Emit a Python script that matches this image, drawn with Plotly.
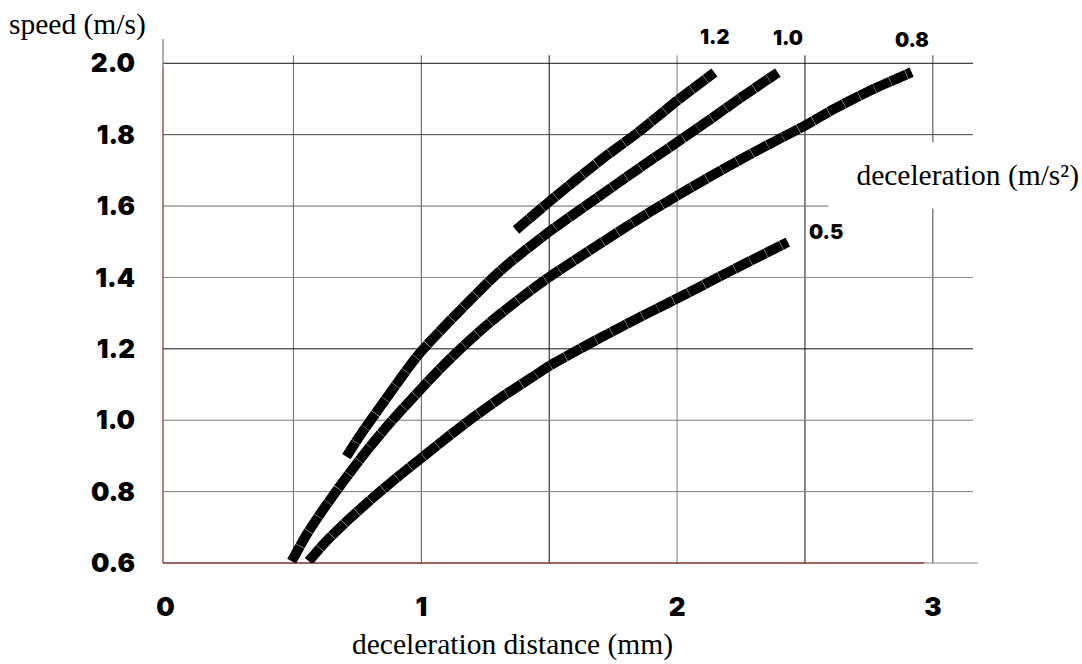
import plotly.graph_objects as go

# ---- data ----
curve_names = ["1.2", "1.0", "0.8", "0.5"]

x_12 = [1.37, 1.50, 1.70, 1.85, 2.00, 2.146]
y_12 = [1.533, 1.612, 1.728, 1.808, 1.895, 1.974]

x_10 = [0.707, 0.765, 0.835, 0.94, 0.996, 1.141, 1.305, 1.485, 1.687, 1.85, 1.984, 2.118, 2.248, 2.394]
y_10 = [0.898, 0.962, 1.033, 1.138, 1.19, 1.300, 1.416, 1.520, 1.623, 1.705, 1.771, 1.837, 1.903, 1.974]

x_08 = [0.493, 0.552, 0.604, 0.664, 0.728, 0.802, 0.877, 0.963, 1.065, 1.153, 1.267, 1.397, 1.5,
        1.687, 1.85, 1.984, 2.118, 2.276, 2.378, 2.496, 2.614, 2.76, 2.917]
y_08 = [0.605, 0.68, 0.737, 0.798, 0.86, 0.928, 0.992, 1.06, 1.138, 1.2, 1.273, 1.347, 1.401,
        1.489, 1.564, 1.622, 1.678, 1.741, 1.780, 1.824, 1.872, 1.925, 1.975]

x_05 = [0.56, 0.627, 0.716, 0.813, 0.914, 1.0, 1.112, 1.2, 1.321, 1.447, 1.5, 1.646, 1.78, 1.919,
        2.0, 2.087, 2.181, 2.433]
y_05 = [0.605, 0.66, 0.722, 0.784, 0.845, 0.894, 0.958, 1.006, 1.068, 1.127, 1.152, 1.21, 1.261, 1.312,
        1.341, 1.373, 1.408, 1.499]

x_tick_vals = [0, 1, 2, 3]
x_tick_text = ["0", "1", "2", "3"]
y_tick_vals = [0.6, 0.8, 1.0, 1.2, 1.4, 1.6, 1.8, 2.0]
y_tick_text = ["0.6", "0.8", "1.0", "1.2", "1.4", "1.6", "1.8", "2.0"]

x_grid_vals = [0.5, 1.0, 1.5, 2.0, 2.5, 3.0]
y_grid_vals = [0.8, 1.0, 1.2, 1.4, 1.6, 1.8, 2.0]

x_title = "deceleration distance (mm)"
y_title = "speed (m/s)"
legend_title = "deceleration (m/s²)"

# ---- styles ----
X_RANGE = [-0.01, 3.157]
Y_RANGE = [0.6, 2.068]
HEAVY = "Inter, Roboto, Lato, sans-serif"
SERIF = "'Liberation Serif', 'Times New Roman', serif"
AXIS_RED = "#7e2f2f"
x_grid_colors = ["#6a6a6a", "#555555", "#111111", "#7a7a7a", "#111111", "#444444"]
y_grid_colors = ["#7a7a7a", "#7a7a7a", "#111111", "#888888", "#666666", "#444444", "#111111"]
label_shift = {"1.2": (1, 36), "1.0": (10, 35), "0.8": (0, 32), "0.5": (38, 10)}

fig = go.Figure()

series = [(x_12, y_12), (x_10, y_10), (x_08, y_08), (x_05, y_05)]
for name, (xs, ys) in zip(curve_names, series):
    fig.add_trace(go.Scatter(
        x=xs, y=ys, mode="lines", name=name, showlegend=False,
        line=dict(color="black", width=10, shape="spline", smoothing=0.8, dash="17px,0.35px"),
        hoverinfo="skip",
    ))

shapes = []
for xv, c in zip(x_grid_vals, x_grid_colors):
    shapes.append(dict(type="line", xref="x", yref="paper", x0=xv, x1=xv, y0=0, y1=0.969,
                       line=dict(color=c, width=1), layer="below"))
for yv, c in zip(y_grid_vals, y_grid_colors):
    shapes.append(dict(type="line", xref="paper", yref="y", x0=0, x1=1, y0=yv, y1=yv,
                       line=dict(color=c, width=1), layer="below"))
shapes.append(dict(type="line", xref="paper", yref="paper", x0=0, x1=0, y0=0.947, y1=1.0,
                   line=dict(color="#777777", width=1.2), layer="below"))
shapes.append(dict(type="line", xref="paper", yref="paper", x0=0, x1=0, y0=0, y1=0.947,
                   line=dict(color=AXIS_RED, width=1.2), layer="below"))
shapes.append(dict(type="line", xref="paper", yref="paper", x0=0, x1=0.94, y0=0, y1=0,
                   line=dict(color=AXIS_RED, width=1.5), layer="below"))
shapes.append(dict(type="line", xref="paper", yref="paper", x0=0.94, x1=1.006, y0=0, y1=0,
                   line=dict(color="#888888", width=1.2), layer="below"))

annotations = []
for name, (xs, ys) in zip(curve_names, series):
    dx, dy = label_shift[name]
    annotations.append(dict(x=xs[-1], y=ys[-1], xref="x", yref="y", text=name, showarrow=False,
                            xshift=dx, yshift=dy, xanchor="center", yanchor="middle",
                            font=dict(family=HEAVY, size=20, color="black", weight=900)))
annotations.append(dict(x=-0.105, y=1.027, xref="paper", yref="paper", text=y_title, showarrow=False,
                        xanchor="center", yanchor="middle",
                        font=dict(family=SERIF, size=29.5, color="black")))
annotations.append(dict(x=0.432, y=-0.156, xref="paper", yref="paper", text=x_title, showarrow=False,
                        xanchor="center", yanchor="middle",
                        font=dict(family=SERIF, size=29.5, color="black")))
annotations.append(dict(x=0.978, y=0.74, xref="paper", yref="paper", text=legend_title, showarrow=False,
                        xanchor="center", yanchor="middle", align="right", valign="middle",
                        width=247, height=59, borderpad=3, bgcolor="white",
                        font=dict(family=SERIF, size=29.5, color="black")))

fig.update_layout(
    width=1082, height=664,
    margin=dict(l=163, r=109, t=39, b=101),
    paper_bgcolor="white", plot_bgcolor="white",
    shapes=shapes, annotations=annotations,
    showlegend=False,
    xaxis=dict(range=X_RANGE, tickvals=x_tick_vals, ticktext=x_tick_text, showgrid=False,
               zeroline=False, showline=False, ticks="", ticklabelstandoff=26,
               tickfont=dict(family=HEAVY, size=26, color="black", weight=900)),
    yaxis=dict(range=Y_RANGE, tickvals=y_tick_vals, ticktext=y_tick_text, showgrid=False,
               zeroline=False, showline=False, ticks="", ticklabelstandoff=27,
               tickfont=dict(family=HEAVY, size=26, color="black", weight=900)),
)

fig.write_html("out.html", config={"displayModeBar": False},
               post_script="document.body.style.margin='0';")
